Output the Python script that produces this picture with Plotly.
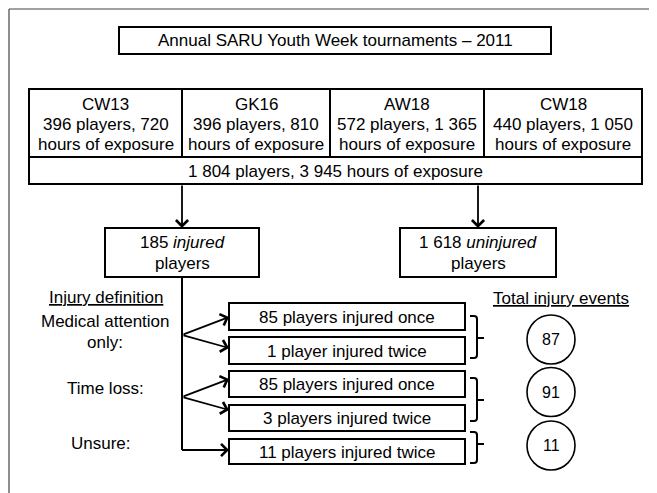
import plotly.graph_objects as go

# ---------------- data ----------------
title_text = "Annual SARU Youth Week tournaments \u2013 2011"
tournaments = ["CW13", "GK16", "AW18", "CW18"]
players = [396, 396, 572, 440]
hours = [720, 810, 1365, 1050]
total_players = 1804
total_hours = 3945
injured_players = 185
uninjured_players = 1618
definitions = [["Medical attention", "only:"], ["Time loss:"], ["Unsure:"]]
outcome_counts = [85, 1, 85, 3, 11]
outcome_times = ["once", "twice", "once", "twice", "twice"]
event_totals = [87, 91, 11]


def fmt(n):
    return f"{n:,}".replace(",", " ")


# ---------------- layout geometry ----------------
FONT = "Liberation Sans, Arial, Helvetica, sans-serif"
NARROW = "Liberation Sans Narrow, Arial Narrow, Liberation Sans, sans-serif"
FS = 17
PAGE_W, PAGE_H = 657, 493
OFF = 8  # browser body margin; axis coords == page pixels

fig = go.Figure()
shapes = []
ann = []


def box(x0, y0, x1, y1, w=2):
    shapes.append(dict(type="rect", x0=x0, y0=y0, x1=x1, y1=y1, xref="x", yref="y",
                       line=dict(color="black", width=w), fillcolor="rgba(0,0,0,0)"))


def line(x0, y0, x1, y1, w=2, color="black"):
    shapes.append(dict(type="line", x0=x0, y0=y0, x1=x1, y1=y1, xref="x", yref="y",
                       line=dict(color=color, width=w)))


def text(x, y, t, size=FS, xanchor="center", family=FONT):
    ann.append(dict(x=x, y=y, xref="x", yref="y", text=t, showarrow=False,
                    font=dict(family=family, size=size, color="black"),
                    xanchor=xanchor, yanchor="middle"))


def arrow(x0, y0, x1, y1):
    ann.append(dict(x=x1, y=y1, ax=x0, ay=y0, xref="x", yref="y", axref="x", ayref="y",
                    text="", showarrow=True, arrowhead=4, arrowsize=1.3, arrowwidth=1.8,
                    arrowcolor="black", standoff=0, startstandoff=0))


# outer frame (top and left edges)
line(9, 9, PAGE_W, 9, w=1.2, color="#444")
line(9, 9, 9, PAGE_H, w=1.2, color="#444")

# title box
box(119, 27, 551, 54)
text(335, 40.5, title_text)

# tournaments table
col_edges = [29, 182, 330, 484, 642]
box(col_edges[0], 89, col_edges[-1], 184)
line(col_edges[0], 157, col_edges[-1], 157)
for i, name in enumerate(tournaments):
    if 0 < i:
        line(col_edges[i], 89, col_edges[i], 157)
    cx = (col_edges[i] + col_edges[i + 1]) / 2
    text(cx, 104, name)
    text(cx, 124.5, f"{fmt(players[i])} players, {fmt(hours[i])}")
    text(cx, 144.5, "hours of exposure")
text(335.5, 171, f"{fmt(total_players)} players, {fmt(total_hours)} hours of exposure")

# injured / uninjured boxes
arrow(182, 184, 182, 228)
arrow(478, 184, 478, 228)
box(105, 228, 259, 277)
text(182, 242.5, f"{fmt(injured_players)} <i>injured</i>")
text(182, 263.5, "players")
box(400, 228, 556, 277)
text(478, 242.5, f"{fmt(uninjured_players)} <i>uninjured</i>")
text(478, 263.5, "players")

# injury definition column
text(106, 297, "<u>Injury definition</u>")
def_y = [[321, 342], [388], [443]]
def_x = [105, 105, 101]
for d, ys, xx in zip(definitions, def_y, def_x):
    for t, yy in zip(d, ys):
        text(xx, yy, t)

# trunk + forks
line(182, 277, 182, 450)
fork_y = [335, 397]
box_tops = [303, 337, 371, 405, 439]
box_bots = [330, 364, 397, 431, 464]
box_mid = [(a + b) / 2 for a, b in zip(box_tops, box_bots)]
arrow(182, fork_y[0], 229, 317)
arrow(182, fork_y[0], 229, 348)
arrow(182, fork_y[1], 229, 379)
arrow(182, fork_y[1], 229, 410)
line(182, 450, 200, 450)
arrow(182, 450, 229, 450)

for i, (c, t) in enumerate(zip(outcome_counts, outcome_times)):
    box(229, box_tops[i], 465, box_bots[i])
    noun = "player" if c == 1 else "players"
    text(347, box_mid[i] + 0.5, f"{c} {noun} injured {t}")

# braces
braces = [(316, 338, 358), (378, 400, 421), (432, 444, 463)]
for top, tip, bot in braces:
    path = (f"M 470 {top} L 474 {top} Q 477 {top} 477 {top + 3} L 477 {bot - 3} "
            f"Q 477 {bot} 474 {bot} L 470 {bot} M 477 {tip} L 484 {tip}")
    shapes.append(dict(type="path", path=path, xref="x", yref="y",
                       line=dict(color="black", width=2)))

# totals
text(560.5, 298, "<u>Total injury events</u>")
circle_c = [339.5, 392, 445.5]
for cy, v in zip(circle_c, event_totals):
    shapes.append(dict(type="circle", x0=527, x1=575, y0=cy - 24.5, y1=cy + 24.5,
                       xref="x", yref="y", line=dict(color="black", width=1.6)))
    text(551, cy, str(v), size=16, family=NARROW)

fig.update_layout(
    width=PAGE_W - OFF, height=PAGE_H - OFF, margin=dict(l=0, r=0, t=0, b=0, pad=0),
    paper_bgcolor="white", plot_bgcolor="white",
    shapes=shapes, annotations=ann, showlegend=False,
    xaxis=dict(range=[OFF, PAGE_W], visible=False, fixedrange=True),
    yaxis=dict(range=[PAGE_H, OFF], visible=False, fixedrange=True),
)
fig.write_html("out.html")
